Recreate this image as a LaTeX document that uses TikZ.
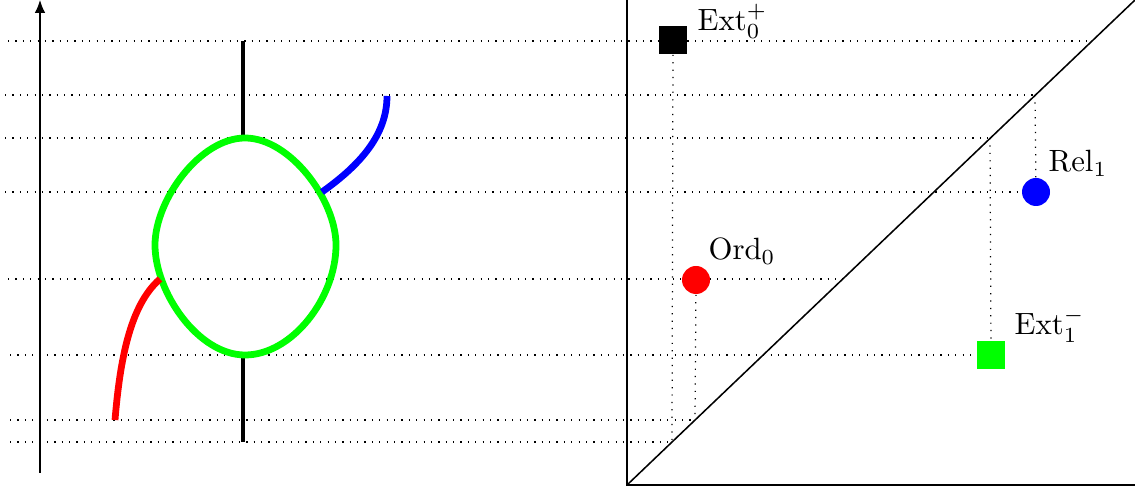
\documentclass[tikz,border=0pt]{standalone}
\usetikzlibrary{arrows.meta}
\definecolor{pgreen}{RGB}{0,255,0}
\definecolor{pred}{RGB}{255,0,0}
\definecolor{pblue}{RGB}{0,0,255}
\tikzset{
  guide/.style={dotted, line width=0.4pt},
  stem/.style={line width=1.3pt},
  thickcurve/.style={line width=2.2pt},
  frameline/.style={line width=0.7pt},
  sqmark/.style={rectangle, minimum size=9.4pt, inner sep=0pt},
  dotmark/.style={circle, minimum size=9.1pt, inner sep=0pt},
  lab/.style={inner sep=0pt, anchor=base west}
}
\begin{document}
\begin{tikzpicture}[x=0.325pt,y=-0.325pt]
\useasboundingbox (0,0) rectangle (1135,490);
% points of the diagram
\coordinate (O) at (627,485);
\coordinate (TR) at (1135,0);
\coordinate (pE0) at (673,40);
\coordinate (pR1) at (1036,192);
\coordinate (pO0) at (696,280);
\coordinate (pE1) at (991,355);
% guide-line ends
\coordinate (a0) at (8,41);   \coordinate (a1) at (1092,41);
\coordinate (b0) at (5,95);   \coordinate (b1) at (1035,95);
\coordinate (c0) at (5,138);  \coordinate (c1) at (990,138);
\coordinate (d0) at (5,192);
\coordinate (e0) at (8,279);  \coordinate (e1) at (843,279);
\coordinate (f0) at (10,355);
\coordinate (g0) at (10,420); \coordinate (g1) at (695,420);
\coordinate (h0) at (10,442); \coordinate (h1) at (672,442);
% horizontal guides
\draw[guide] (a0) -- (a1);
\draw[guide] (b0) -- (b1);
\draw[guide] (c0) -- (c1);
\draw[guide] (d0) -- (pR1);
\draw[guide] (e0) -- (e1);
\draw[guide] (f0) -- (pE1);
\draw[guide] (g0) -- (g1);
\draw[guide] (h0) -- (h1);
% vertical guides
\draw[guide] (pE0) -- (h1);
\draw[guide] (pO0) -- (g1);
\draw[guide] (c1) -- (pE1);
\draw[guide] (b1) -- (pR1);
% axis
\coordinate (ax0) at (40,473);
\coordinate (ax1) at (40,0);
\draw[-{Latex[length=4.2pt,width=3.4pt]}] (ax0) -- (ax1);
% left graph
\coordinate (sT) at (243,41);
\coordinate (lT) at (245,138);
\coordinate (lR) at (336,245);
\coordinate (lB) at (245,355);
\coordinate (lL) at (155,245);
\coordinate (sB) at (243,442);
\draw[stem] (sT) -- (243,138);
\draw[stem] (243,355) -- (sB);
\draw[thickcurve, pgreen] (lT) .. controls (290,138) and (336,200) .. (lR)
  .. controls (336,298) and (292,355) .. (lB)
  .. controls (198,355) and (155,292) .. (lL)
  .. controls (155,200) and (200,138) .. (lT) -- cycle;
\coordinate (bj) at (322,192);
\coordinate (bt) at (387,96);
\draw[thickcurve, pblue] (bj) .. controls (360,165) and (387,135) .. (bt);
\coordinate (rj) at (160,279);
\coordinate (rb) at (115,420);
\draw[thickcurve, pred] (rj) .. controls (130,305) and (120,360) .. (rb);
% right panel
\coordinate (fTL) at (627,0);
\coordinate (fBR) at (1135,485);
\draw[frameline] (fTL) -- (O) -- (fBR);
\draw[line width=0.5pt] (O) -- (TR);
\node[sqmark, fill=black] (ext0) at (pE0) {};
\node[sqmark, fill=pgreen] (ext1) at (pE1) {};
\node[dotmark, fill=pred] (ord0) at (pO0) {};
\node[dotmark, fill=pblue] (rel1) at (pR1) {};
\node[lab] (lext0) at (697,31) {$\mathrm{Ext}_0^+$};
\node[lab] (lrel1) at (1048,172) {$\mathrm{Rel}_1$};
\node[lab] (lord0) at (708,260) {$\mathrm{Ord}_0$};
\node[lab] (lext1) at (1014,335) {$\mathrm{Ext}_1^-$};
\end{tikzpicture}
\end{document}
